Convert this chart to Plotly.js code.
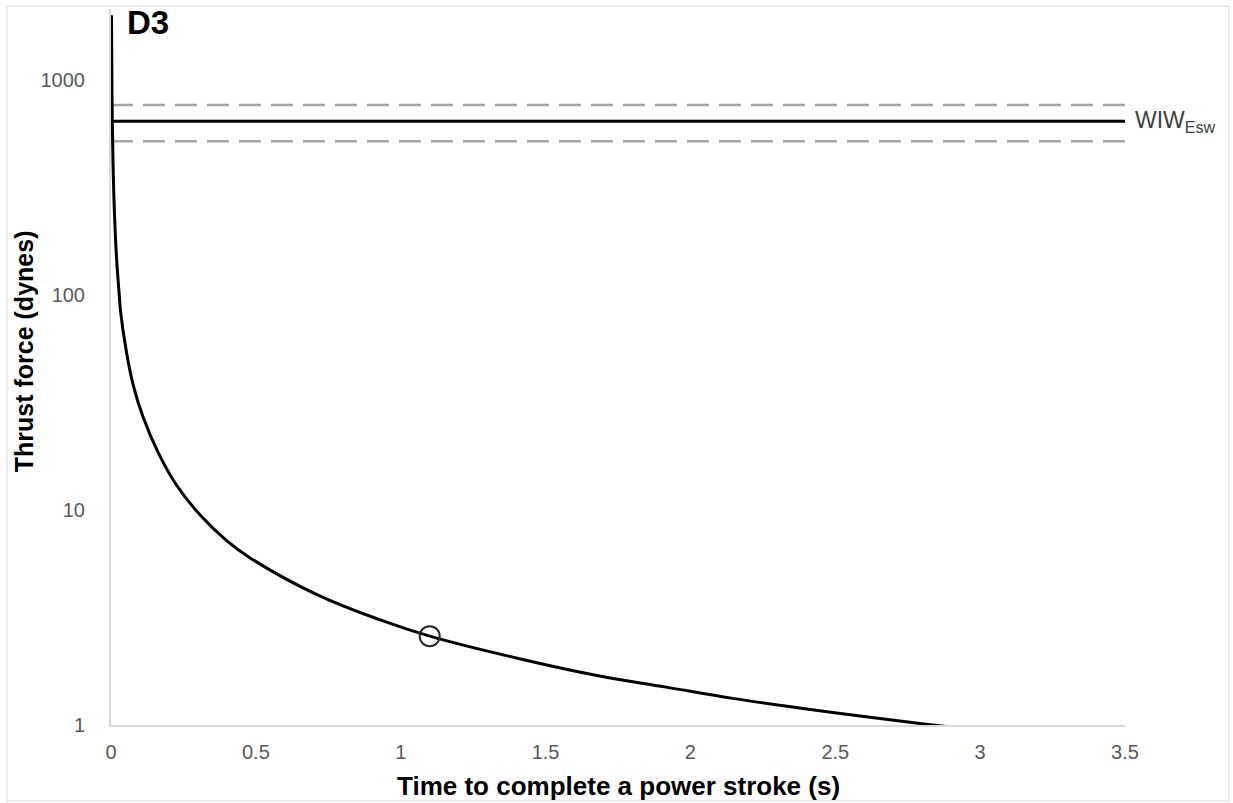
<!DOCTYPE html>
<html>
<head>
<meta charset="utf-8">
<script src="https://cdn.plot.ly/plotly-3.0.1.min.js"></script>
<style>html,body{margin:0;padding:0;background:#fff;}#chart{width:1233px;height:803px;}</style>
</head>
<body>
<div id="chart"></div>
<script>
// Thrust force curve
var curveTime  = [0.0017, 0.0031, 0.0045, 0.0095, 0.0143, 0.019, 0.0245, 0.0285, 0.0334, 0.0517, 0.0769, 0.111, 0.163, 0.227, 0.307, 0.399, 0.479, 0.709, 0.939, 1.10, 1.399, 1.686, 1.916, 2.146, 2.376, 2.606, 2.836, 2.93];
var curveForce = [2000, 1000, 638, 300, 200, 150, 117, 100, 83, 56, 38, 27, 18.5, 13, 9.5, 7.2, 6.0, 4.05, 3.05, 2.59, 2.05, 1.69, 1.50, 1.33, 1.2, 1.093, 1.0, 0.97];
// Reference lines
var lineTime = [0, 3.5];
var wiwMean  = [643, 643];
var wiwUpper = [764, 764];
var wiwLower = [519, 519];
// Highlighted point
var pointTime  = [1.1];
var pointForce = [2.59];
// Ticks
var xTicks = [0, 0.5, 1, 1.5, 2, 2.5, 3, 3.5];
var xTickText = ['0', '0.5', '1', '1.5', '2', '2.5', '3', '3.5'];
var yTicks = [1, 10, 100, 1000];
var yTickText = ['1', '10', '100', '1000'];

var font = 'Liberation Sans, Arial, sans-serif';

var traces = [
  {x: lineTime, y: wiwUpper, mode: 'lines', line: {color: '#a6a6a6', width: 2.5, dash: '22px,10px'}},
  {x: lineTime, y: wiwLower, mode: 'lines', line: {color: '#a6a6a6', width: 2.5, dash: '22px,10px'}},
  {x: lineTime, y: wiwMean, mode: 'lines', line: {color: '#000000', width: 3}},
  {x: curveTime, y: curveForce, mode: 'lines', line: {color: '#000000', width: 3, shape: 'spline', smoothing: 1.2}},
  {x: pointTime, y: pointForce, mode: 'markers', marker: {symbol: 'circle-open', size: 20, color: '#262626', line: {width: 2, color: '#262626'}}, cliponaxis: false}
];

var layout = {
  width: 1233, height: 803,
  margin: {l: 111, r: 108, t: 9, b: 78},
  paper_bgcolor: '#ffffff', plot_bgcolor: '#ffffff',
  showlegend: false,
  font: {family: font, color: '#595959'},
  xaxis: {
    range: [0, 3.5], tickvals: xTicks, ticktext: xTickText,
    showgrid: false, zeroline: false, showline: true, linecolor: '#d9d9d9', linewidth: 2,
    ticks: '', tickfont: {size: 20, color: '#595959'}, ticklabelstandoff: 8
  },
  yaxis: {
    type: 'log', range: [0, 3.33], tickvals: yTicks, ticktext: yTickText,
    showgrid: false, zeroline: false, showline: true, linecolor: '#d9d9d9', linewidth: 2,
    ticks: '', tickfont: {size: 20, color: '#595959'}, ticklabelstandoff: 20
  },
  annotations: [
    {xref: 'paper', yref: 'paper', x: 0.5, y: -0.085, xanchor: 'center', yanchor: 'middle', text: '<b>Time to complete a power stroke (s)</b>', showarrow: false, font: {size: 26, color: '#000000', family: font}},
    {xref: 'paper', yref: 'paper', x: -0.0858, y: 0.522, xanchor: 'center', yanchor: 'middle', textangle: -90, text: '<b>Thrust force (dynes)</b>', showarrow: false, font: {size: 25, color: '#000000', family: font}},
    {xref: 'paper', yref: 'paper', x: 0.0135, y: 1.01, xanchor: 'left', yanchor: 'top', text: '<b>D3</b>', showarrow: false, font: {size: 33, color: '#000000', family: font}},
    {xref: 'paper', yref: 'y', x: 1.008, y: Math.log10(643), xanchor: 'left', yanchor: 'middle', text: 'WIW<sub>Esw</sub>', showarrow: false, font: {size: 23, color: '#404040', family: font}}
  ],
  shapes: [
    {type: 'rect', xref: 'paper', yref: 'paper', x0: -0.1026, x1: 1.1026, y0: -0.106, y1: 1.004, line: {color: '#e6e6e6', width: 1.5}, fillcolor: 'rgba(0,0,0,0)'}
  ]
};

Plotly.newPlot('chart', traces, layout, {staticPlot: true, displayModeBar: false});
</script>
</body>
</html>
